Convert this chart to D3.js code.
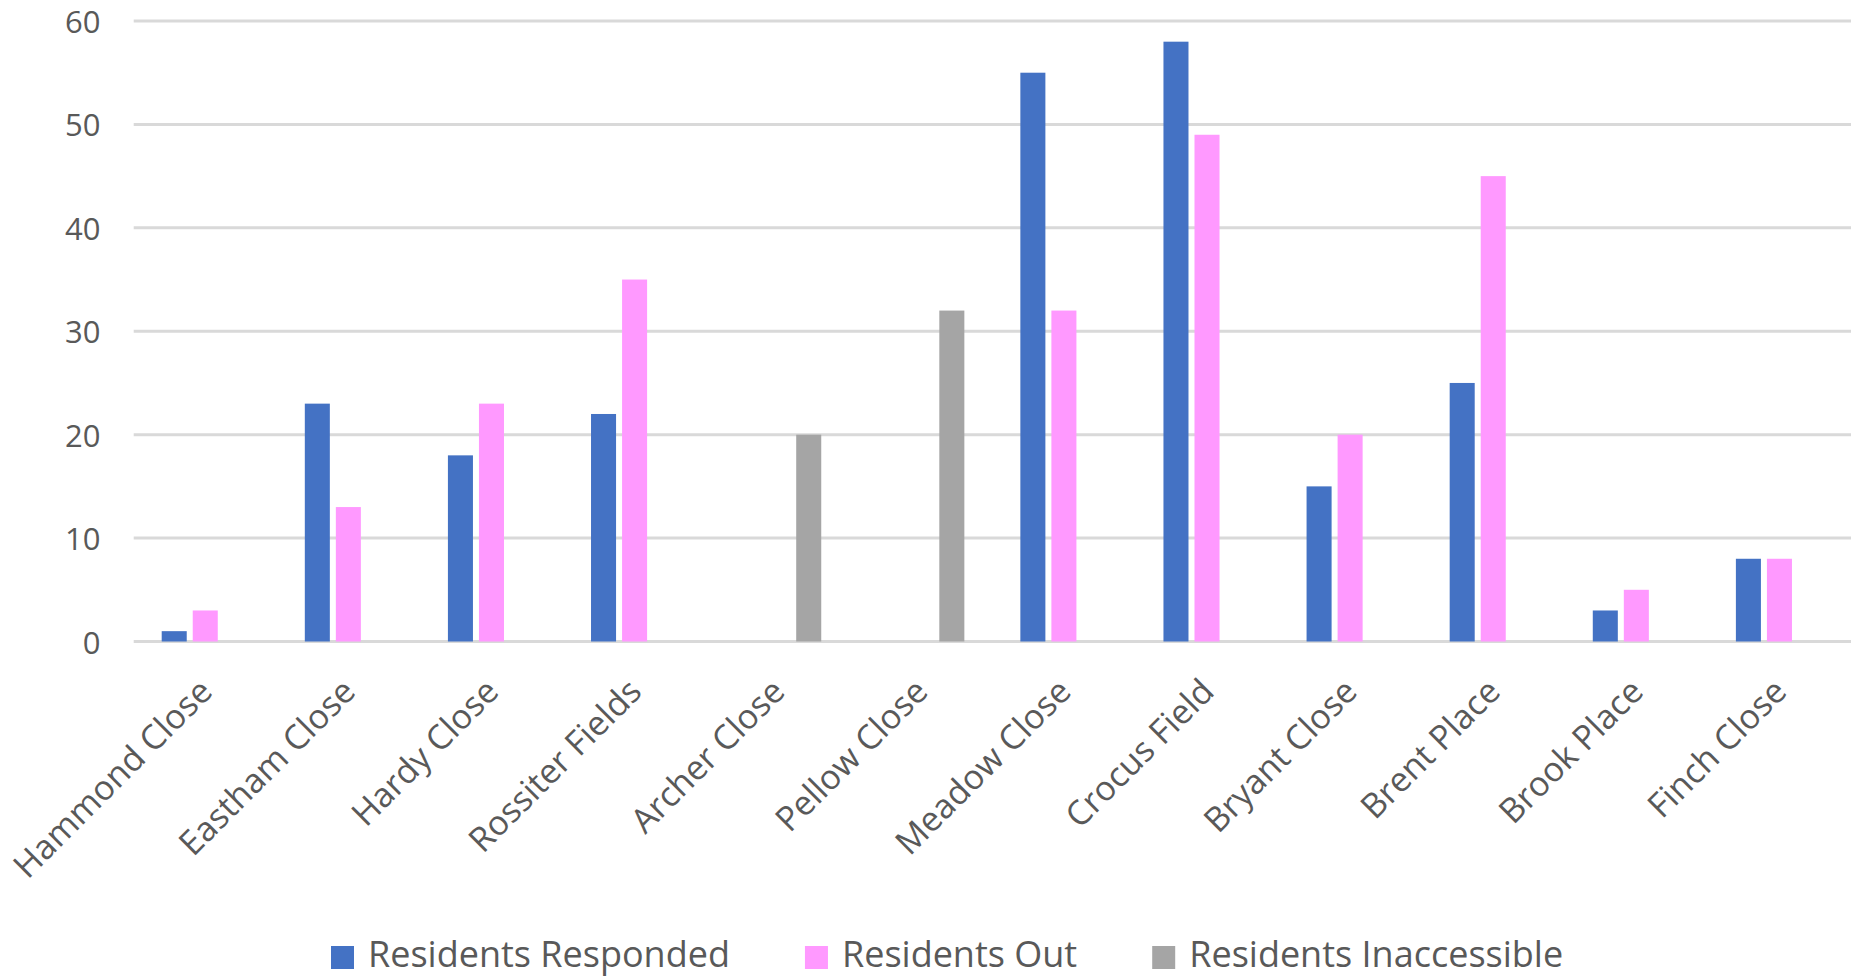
<!DOCTYPE html>
<html>
<head>
<meta charset="utf-8">
<script src="https://cdn.jsdelivr.net/npm/d3@7"></script>
<style>
  html, body { margin: 0; padding: 0; background: #fff; }
  svg { display: block; font-family: "Open Sans", sans-serif; }
</style>
</head>
<body>
<svg id="chart" width="1868" height="977"></svg>
<script>
// Survey results per street
const categories = ["Hammond Close", "Eastham Close", "Hardy Close", "Rossiter Fields", "Archer Close",
  "Pellow Close", "Meadow Close", "Crocus Field", "Bryant Close", "Brent Place", "Brook Place", "Finch Close"];
const residentsResponded = [1, 23, 18, 22, null, null, 55, 58, 15, 25, 3, 8];
const residentsOut = [3, 13, 23, 35, null, null, 32, 49, 20, 45, 5, 8];
const residentsInaccessible = [null, null, null, null, 20, 32, null, null, null, null, null, null];
const seriesNames = ["Residents Responded", "Residents Out", "Residents Inaccessible"];
const seriesColors = ["#4472C4", "#FF99FF", "#A5A5A5"];
const yTicks = [0, 10, 20, 30, 40, 50, 60];

const seriesValues = [residentsResponded, residentsOut, residentsInaccessible];

const svg = d3.select("#chart");
const plot = { left: 133.7, right: 1851, top: 21, bottom: 641.5 };

const x0 = d3.scaleBand().domain(categories).range([plot.left, plot.right]).paddingInner(0).paddingOuter(0);
const groupPad = 28;
const x1 = d3.scaleBand().domain(seriesNames)
  .range([groupPad, x0.bandwidth() - groupPad])
  .paddingInner(6 / 31).paddingOuter(0);
const y = d3.scaleLinear().domain([0, 60]).range([plot.bottom, plot.top]);

// gridlines
svg.append("g").selectAll("line").data(yTicks).join("line")
  .attr("x1", plot.left).attr("x2", plot.right)
  .attr("y1", d => y(d)).attr("y2", d => y(d))
  .attr("stroke", "#d9d9d9").attr("stroke-width", 3);

// y tick labels
svg.append("g").selectAll("text").data(yTicks).join("text")
  .attr("x", 100.5).attr("y", d => y(d))
  .attr("text-anchor", "end").attr("dominant-baseline", "central")
  .attr("font-size", 31).attr("fill", "#595959")
  .text(d => d);

// bars
const barData = [];
categories.forEach((c, i) => {
  seriesNames.forEach((s, j) => {
    const v = seriesValues[j][i];
    if (v != null) barData.push({ category: c, series: s, value: v, color: seriesColors[j] });
  });
});
svg.append("g").selectAll("rect").data(barData).join("rect")
  .attr("x", d => x0(d.category) + x1(d.series))
  .attr("width", x1.bandwidth())
  .attr("y", d => y(d.value))
  .attr("height", d => y(0) - y(d.value))
  .attr("fill", d => d.color);

// category labels, rotated
svg.append("g").selectAll("text").data(categories).join("text")
  .attr("transform", d => `translate(${x0(d) + x0.bandwidth() / 2 + 9},${plot.bottom + 52}) rotate(-45)`)
  .attr("text-anchor", "end")
  .attr("font-size", 34).attr("fill", "#595959")
  .text(d => d);

// legend
const legend = svg.append("g");
let lx = 331;
seriesNames.forEach((s, j) => {
  legend.append("rect").attr("x", lx).attr("y", 946).attr("width", 23).attr("height", 23)
    .attr("fill", seriesColors[j]);
  const t = legend.append("text").attr("x", lx + 23 + 14).attr("y", 967)
    .attr("font-size", 36).attr("fill", "#595959").text(s);
  lx += 23 + 14 + t.node().getComputedTextLength() + 75;
});
</script>
</body>
</html>
